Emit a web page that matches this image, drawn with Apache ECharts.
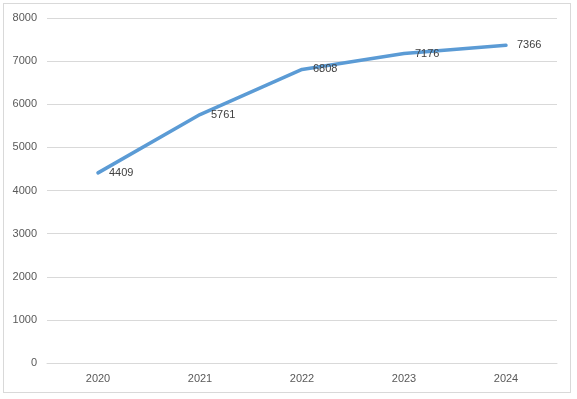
<!DOCTYPE html>
<html>
<head>
<meta charset="utf-8">
<script src="https://cdn.jsdelivr.net/npm/echarts@6/dist/echarts.min.js"></script>
<style>
  html, body { margin: 0; padding: 0; background: #fff; }
  #frame { position: absolute; left: 3px; top: 3px; width: 568px; height: 390px; border: 1px solid #d9d9d9; box-sizing: border-box; }
  #chart { position: absolute; left: 0; top: 0; width: 577px; height: 399px; }
</style>
</head>
<body>
<div id="frame"></div>
<div id="chart"></div>
<script>
const years = ['2020', '2021', '2022', '2023', '2024'];
const values = [4409, 5761, 6808, 7176, 7366];
const yTicks = { min: 0, max: 8000, step: 1000 };

const chart = echarts.init(document.getElementById('chart'));
chart.setOption({
  animation: false,
  textStyle: { fontFamily: 'Liberation Sans, Arial, sans-serif' },
  grid: { left: 47, right: 20, top: 18, bottom: 36 },
  xAxis: {
    type: 'category',
    data: years,
    boundaryGap: true,
    axisLine: { lineStyle: { color: '#d9d9d9', width: 1 } },
    axisTick: { show: false },
    axisLabel: { color: '#595959', fontSize: 11, margin: 10 }
  },
  yAxis: {
    type: 'value',
    min: yTicks.min,
    max: yTicks.max,
    interval: yTicks.step,
    axisLine: { show: false },
    axisTick: { show: false },
    axisLabel: { color: '#595959', fontSize: 11, margin: 10, formatter: v => String(v) },
    splitLine: { lineStyle: { color: '#d9d9d9', width: 1 } }
  },
  series: [{
    type: 'line',
    data: values,
    symbol: 'circle',
    symbolSize: 2,
    showSymbol: true,
    itemStyle: { color: '#5b9bd5', borderWidth: 0 },
    lineStyle: { color: '#5b9bd5', width: 3.5, cap: 'round', join: 'round' },
    label: {
      show: true,
      position: 'right',
      distance: 10,
      color: '#404040',
      fontSize: 11
    }
  }]
});
</script>
</body>
</html>
